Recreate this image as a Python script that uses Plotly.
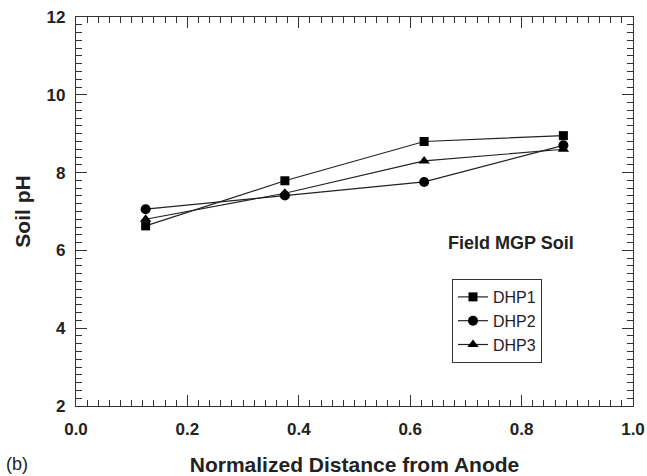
import plotly.graph_objects as go

x_vals = [0.125, 0.375, 0.625, 0.875]
dhp1 = [6.63, 7.79, 8.80, 8.95]
dhp2 = [7.06, 7.41, 7.76, 8.70]
dhp3 = [6.80, 7.47, 8.30, 8.60]
series_names = ["DHP1", "DHP2", "DHP3"]
symbols = ["square", "circle", "triangle-up"]

FONT = "Liberation Sans, Arial"
INK = "#222222"

fig = go.Figure()
for name, ys, sym in zip(series_names, [dhp1, dhp2, dhp3], symbols):
    fig.add_trace(go.Scatter(
        x=x_vals, y=ys, name=name, mode="lines+markers",
        line=dict(color=INK, width=1.2),
        marker=dict(symbol=sym, size=10 if sym != "square" else 9, color="black"),
    ))

axis_common = dict(
    showline=True, linecolor="#333333", linewidth=1.3, mirror="allticks",
    ticks="inside", ticklen=11, tickwidth=1.2, tickcolor="#333333",
    showgrid=False, zeroline=False, automargin=False,
    tickfont=dict(family=FONT, size=17, color=INK, weight="bold"),
)

fig.update_xaxes(
    range=[0, 1], dtick=0.2, tickformat=".1f", ticklabelstandoff=7,
    minor=dict(dtick=0.02, ticks="inside", ticklen=6, tickcolor="#333333", tickwidth=1),
    title=dict(text="<b>Normalized Distance from Anode</b>", standoff=21,
               font=dict(family=FONT, size=21, color=INK)),
    **axis_common,
)
fig.update_yaxes(
    range=[2, 12], dtick=2, ticklabelstandoff=6,
    minor=dict(dtick=0.2, ticks="inside", ticklen=6, tickcolor="#333333", tickwidth=1),
    title=dict(text="<b>Soil pH</b>", standoff=10,
               font=dict(family=FONT, size=21, color=INK)),
    **axis_common,
)

fig.add_annotation(
    text="<b>Field MGP Soil</b>", xref="paper", yref="paper",
    x=(511 - 76) / 557, y=(406 - 243) / 389, xanchor="center", yanchor="middle",
    showarrow=False,
    font=dict(family=FONT, size=18, color=INK),
)
fig.add_annotation(
    text="(b)", xref="paper", yref="paper", x=(4 - 76) / 557, y=(406 - 464) / 389,
    xanchor="left", yanchor="middle", showarrow=False,
    font=dict(family=FONT, size=18, color=INK),
)

fig.update_layout(
    width=647, height=476,
    margin=dict(l=76, r=14, t=17, b=70),
    paper_bgcolor="white", plot_bgcolor="white",
    legend=dict(
        x=(452 - 76) / 557, y=(406 - 279) / 389, xanchor="left", yanchor="top",
        bordercolor="#333333", borderwidth=1, bgcolor="white",
        entrywidth=62,
        font=dict(family=FONT, size=16, color=INK),
    ),
)

fig.write_html("out.html")
